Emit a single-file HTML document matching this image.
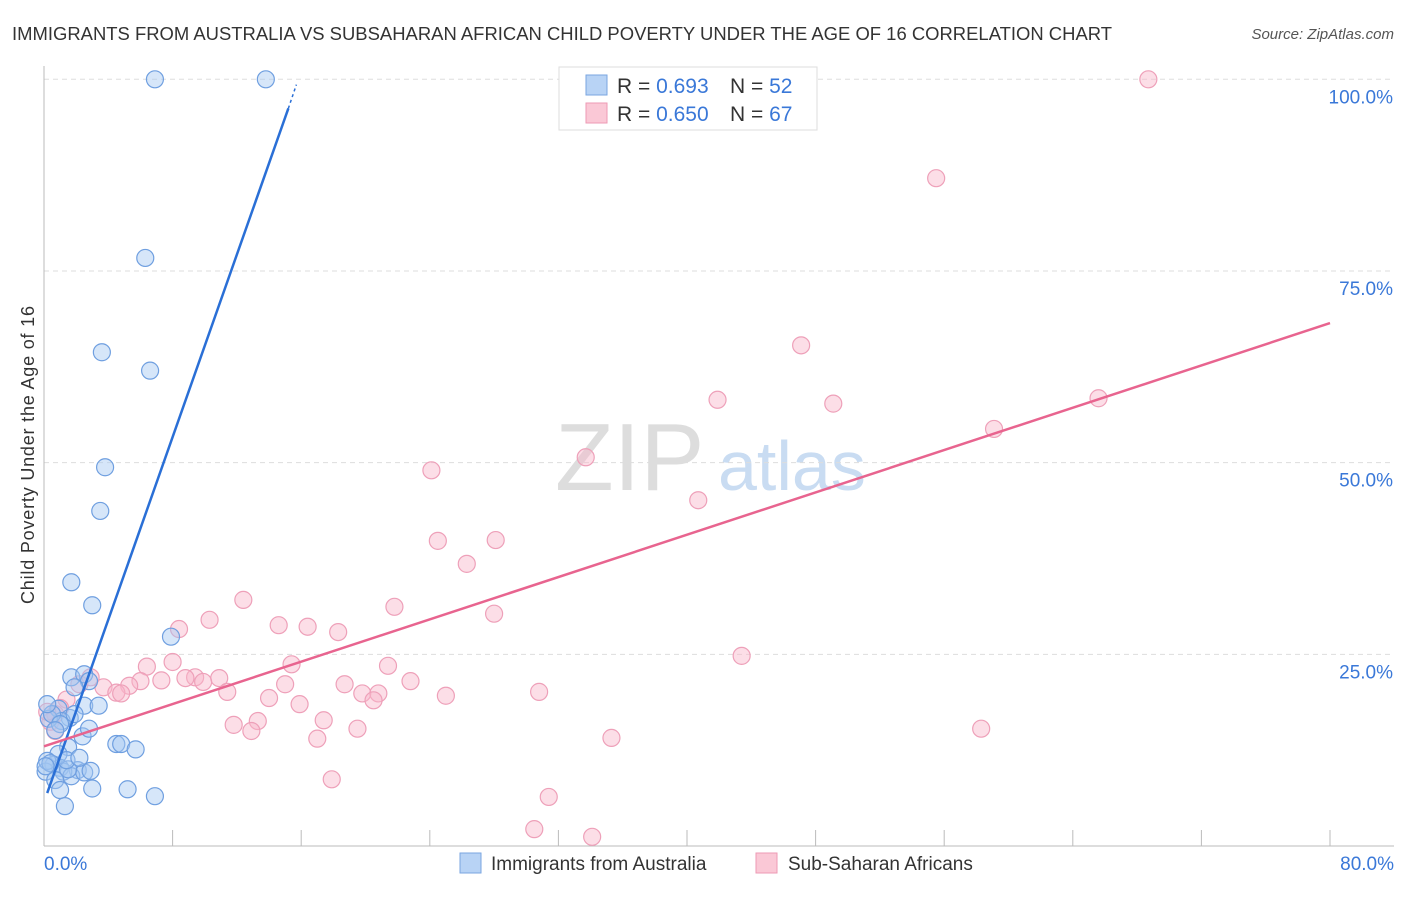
<!DOCTYPE html>
<html><head><meta charset="utf-8"><style>
body{margin:0;background:#fff;font-family:"Liberation Sans",sans-serif}
svg text{font-family:"Liberation Sans",sans-serif}
</style></head><body>
<svg id="c" width="1406" height="892">
<text x="12" y="40" font-size="18" fill="#333" textLength="1100" lengthAdjust="spacingAndGlyphs">IMMIGRANTS FROM AUSTRALIA VS SUBSAHARAN AFRICAN CHILD POVERTY UNDER THE AGE OF 16 CORRELATION CHART</text>
<text x="1394" y="39" font-size="15" fill="#555" font-style="italic" text-anchor="end">Source: ZipAtlas.com</text>
<text x="34" y="455" font-size="18" fill="#333" text-anchor="middle" textLength="298" transform="rotate(-90 34 455)">Child Poverty Under the Age of 16</text>
<text x="555" y="490" font-size="96" fill="#ddd" font-family="Liberation Serif">ZIP</text>
<text x="718" y="490" font-size="70" fill="#c9dcf2">atlas</text>
<g id="grid"></g><g id="pts"></g><g id="lines"></g>
<g>
<rect x="559" y="67" width="258" height="63" fill="#fff" stroke="#ddd"/>
<rect x="586" y="75" width="21" height="20" fill="#b8d3f5" stroke="#7aa6e0"/>
<rect x="586" y="103" width="21" height="20" fill="#fac8d6" stroke="#ee9ab4"/>
<text x="617" y="93" font-size="21" fill="#333">R = <tspan fill="#3a78d8">0.693</tspan><tspan x="730">N = </tspan><tspan fill="#3a78d8">52</tspan></text>
<text x="617" y="121" font-size="21" fill="#333">R = <tspan fill="#3a78d8">0.650</tspan><tspan x="730">N = </tspan><tspan fill="#3a78d8">67</tspan></text>
</g>
<g>
<rect x="460" y="853" width="21" height="20" fill="#b8d3f5" stroke="#7aa6e0"/>
<text x="491" y="870" font-size="19" fill="#333">Immigrants from Australia</text>
<rect x="756" y="853" width="21" height="20" fill="#fac8d6" stroke="#ee9ab4"/>
<text x="788" y="870" font-size="19" fill="#333">Sub-Saharan Africans</text>
</g>
</svg>
<script>
const yTicks=[25,50,75,100];
const xTickLabels=["0.0%","80.0%"];
const blueX=[6.9,13.8,6.3,3.6,6.6,3.8,3.5,1.7,3.0,7.9,1.7,2.5,2.8,1.9,2.5,3.4,0.9,1.6,1.1,2.4,2.8,0.3,1.5,0.9,0.6,1.0,2.1,0.1,0.2,1.2,1.7,2.5,0.7,1.5,4.5,4.8,5.7,3.0,5.2,6.9,1.0,1.3,0.5,0.2,1.0,0.4,1.4,2.2,0.7,0.1,1.9,2.9];
const blueY=[100,100,76.7,64.4,62.0,49.4,43.7,34.4,31.4,27.3,22.0,22.4,21.5,20.7,18.3,18.3,17.9,16.7,16.3,14.3,15.3,16.6,12.9,12.0,10.6,10.2,9.9,9.7,11.1,9.7,9.1,9.6,8.6,10.0,13.3,13.3,12.6,7.5,7.4,6.5,7.3,5.2,17.2,18.5,15.9,10.8,11.2,11.5,15.1,10.4,17.2,9.8];
const pinkX=[68.7,55.5,47.1,65.6,41.9,49.1,59.1,33.7,24.1,40.7,24.5,28.1,26.3,12.4,21.8,28.0,8.4,10.3,14.6,16.4,18.3,15.4,21.4,8.0,6.4,9.4,10.9,8.8,9.9,7.3,6.0,5.3,3.7,4.5,4.8,11.4,15.0,18.7,19.8,20.8,22.8,25.0,30.8,43.4,14.0,15.9,20.5,11.8,13.3,12.9,17.4,19.5,17.0,35.3,58.3,17.9,31.4,30.5,34.1,2.2,2.9,1.4,0.7,0.4,0.7,1.0,0.2];
const pinkY=[100,87.1,65.3,58.4,58.2,57.7,54.4,50.7,49.0,45.1,39.8,39.9,36.8,32.1,31.2,30.3,28.3,29.5,28.8,28.6,27.9,23.7,23.5,24.0,23.4,22.0,21.9,21.9,21.4,21.6,21.5,20.9,20.7,20.0,19.9,20.1,21.1,21.1,19.9,19.9,21.5,19.6,20.1,24.8,19.3,18.5,19.0,15.8,16.3,15.0,16.4,15.3,14.0,14.1,15.3,8.7,6.4,2.2,1.2,21.1,22.0,19.1,17.2,16.2,15.0,18.0,17.5];
const blueLine=[[0.2,6.9],[15.2,96.2],[15.7,99.3]];
const pinkLine=[[0,13.0],[80,68.2]];
const X=v=>44+v/80*1286, Y=v=>846-v/100*766.7;
const ns="http://www.w3.org/2000/svg";
function mk(t,a,p){const e=document.createElementNS(ns,t);for(const k in a)e.setAttribute(k,a[k]);p.appendChild(e);return e;}
const svg=document.getElementById('c'),grid=document.getElementById('grid'),pts=document.getElementById('pts'),lines=document.getElementById('lines');
yTicks.forEach(t=>{const l=mk('line',{x1:44,x2:1394,y1:Y(t),y2:Y(t),stroke:'#ddd','stroke-dasharray':'5,4'},grid);


const tx=mk('text',{x:1393,y:Y(t)+24,'font-size':19,fill:'#3a78d8','text-anchor':'end'},grid);tx.textContent=t.toFixed(1)+'%';

});
const ax=mk('line',{x1:44,x2:44,y1:66,y2:846,stroke:'#bbb'},grid);


const bx=mk('line',{x1:44,x2:1394,y1:846,y2:846,stroke:'#bbb'},grid);


for(let i=1;i<=10;i++){const tk=mk('line',{x1:X(i*8),x2:X(i*8),y1:830,y2:846,stroke:'#bbb'},grid);

}
[[0,'start',44],[80,'end',1394]].forEach((d,i)=>{const t=mk('text',{x:d[2],y:870,'font-size':19,fill:'#3a78d8','text-anchor':d[1]},grid);t.textContent=xTickLabels[i];

});
pinkX.forEach((v,i)=>{const c=mk('circle',{cx:X(v),cy:Y(pinkY[i]),r:8.5,fill:'rgba(248,182,202,0.45)',stroke:'#eea0b9','stroke-width':1.2},pts);

});
blueX.forEach((v,i)=>{const c=mk('circle',{cx:X(v),cy:Y(blueY[i]),r:8.5,fill:'rgba(165,200,242,0.45)',stroke:'#6f9fe0','stroke-width':1.2},pts);

});
const bl=mk('line',{x1:X(blueLine[0][0]),y1:Y(blueLine[0][1]),x2:X(blueLine[1][0]),y2:Y(blueLine[1][1]),stroke:'#2a6fd6','stroke-width':2.5},lines);


const bd=mk('line',{x1:X(blueLine[1][0]),y1:Y(blueLine[1][1]),x2:X(blueLine[2][0]),y2:Y(blueLine[2][1]),stroke:'#2a6fd6','stroke-width':1.5,'stroke-dasharray':'3,3'},lines);


const pl=mk('line',{x1:X(pinkLine[0][0]),y1:Y(pinkLine[0][1]),x2:X(pinkLine[1][0]),y2:Y(pinkLine[1][1]),stroke:'#e8648f','stroke-width':2.5},lines);


</script>
</body></html>
